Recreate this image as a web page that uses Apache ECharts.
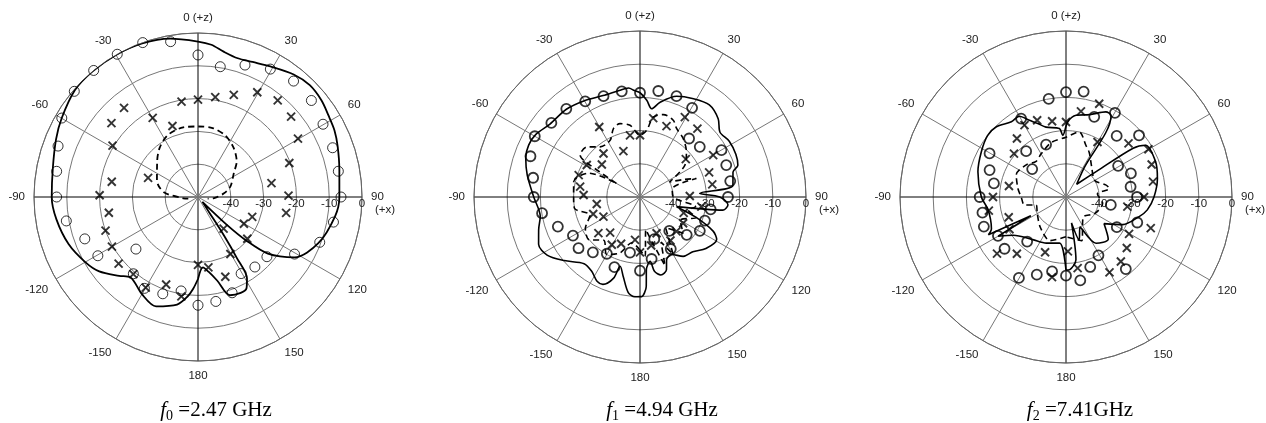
<!DOCTYPE html>
<html><head><meta charset="utf-8">
<script src="https://cdn.jsdelivr.net/npm/echarts@6/dist/echarts.min.js"></script>
<style>html,body{margin:0;padding:0;background:#fff}#c{width:1266px;height:423px}</style>
</head><body><div id="c"></div>
<script>
// ---- data: [angle (deg, clockwise from +z), level (dB)] ----
// f0 = 2.47 GHz
const p0_co_sim = [[-180,-25],[-177,-22],[-174,-19.5],[-169,-16.6],[-159,-14.3],[-150,-15.8],[-140,-18],[-135,-16],[-127,-12.3],[-120,-10.3],[-110,-8],[-99,-6.3],[-90,-5.4],[-79,-4.9],[-68,-3.3],[-60,-2],[-49,-0.3],[-40,0],[-30,0],[-20,-0.2],[-10,-1],[0,-2.6],[5,-3.4],[10,-5],[16,-6],[22,-5.6],[29,-4.5],[38,-2.6],[45,-1.8],[52,-2.2],[58,-3.1],[64,-3.7],[70,-4.7],[79,-6.1],[90,-6.9],[98,-7.8],[111,-10.7],[122,-15.3],[129,-22.6],[132,-30],[134,-38],[138,-48],[144,-44],[146,-36],[147.5,-28],[149,-21],[152,-18.5],[156,-18],[162,-18.5],[167,-23.8],[172,-27],[176,-28.5],[180,-25]];
const p0_co_meas = [[-180,-17],[-169.8,-20.9],[-160,-18.6],[-149.6,-17.7],[-139.9,-19.4],[-130,-25.3],[-120.4,-14.6],[-110.3,-13.2],[-100.3,-9.2],[-90,-6.9],[-79.7,-6.2],[-70,-4.6],[-59.9,-2],[-49.5,-0.4],[-39.5,0],[-29.5,0],[-19.7,0],[-10,-1.9],[0,-6.7],[9.7,-9.7],[19.6,-7.3],[29.5,-5.2],[39.5,-4.2],[49.6,-4.6],[59.8,-5.9],[69.9,-6.3],[79.6,-6.5],[90,-6.4],[100.5,-8],[110.4,-10.4],[120.6,-15.8],[130.9,-22.2],[140.9,-22.5],[150.6,-23.2],[160.4,-19],[170.3,-17.7]];
const p0_x_sim = [[-100,-47],[-95,-45.5],[-82,-39.5],[-68,-36.5],[-49,-33.5],[-38,-31],[-26,-29],[-12,-28.3],[0,-28.5],[12,-28.5],[24,-29.5],[36,-31.5],[47.5,-34],[56,-36.8],[72,-39.6],[82,-42],[95,-45.3],[100,-47]];
const p0_x_meas = [[-170.5,-19.3],[-160,-21.6],[-150,-18.1],[-140,-19.3],[-130,-18.4],[-120,-19.7],[-110,-20],[-100,-22.4],[-89,-20],[-80,-23.3],[-69,-33.7],[-59,-19.6],[-49.5,-15.3],[-39.7,-14.7],[-29.8,-22.2],[-19.8,-27],[-9.8,-20.5],[0,-20.3],[9.8,-19.1],[19.3,-17],[29.5,-13.3],[39.5,-11.8],[49.2,-12.5],[59.7,-14.7],[69.6,-20.3],[79.3,-27.2],[89.1,-22.4],[100.2,-22.7],[110.1,-32.4],[120.2,-33.8],[130.3,-30.3],[141,-37.6],[150.4,-30],[161.1,-24.3],[171.6,-28.3],[180,-29.3]];

// f1 = 4.94 GHz
const p1_co_sim = [[-180,-20],[-177,-19.9],[-173,-21],[-168,-25.6],[-164,-28.3],[-162,-24.3],[-157,-21.4],[-153,-21.5],[-147,-23.3],[-140,-23.8],[-130,-20.2],[-122,-17],[-115,-16.3],[-108,-17.9],[-101,-19.4],[-90,-18],[-79,-15.4],[-71,-13.6],[-65,-13],[-59,-13.4],[-51,-15.1],[-40,-15.5],[-30,-16.5],[-20,-17.5],[-11,-17.3],[-6,-17],[-3,-17.9],[0,-18.6],[4,-20.8],[7.5,-23.2],[12,-20.8],[20,-17.7],[28,-16.4],[37,-15.3],[45,-16.7],[51,-19],[58,-18.3],[66,-18.4],[72,-19],[75,-21],[83,-21.8],[86.5,-32],[90,-26],[95,-23.4],[99,-24.7],[104.8,-38.6],[110,-32],[115,-25.7],[119,-23.6],[128,-24.8],[136,-27.1],[144,-27.9],[151,-30.2],[157,-29.5],[160,-26.7],[165,-25.7],[169,-27.2],[171,-30.4],[175,-28],[176,-23],[179,-20],[180,-20]];
const p1_co_meas = [[-180,-27.8],[-169.8,-33],[-160,-27.5],[-149.7,-30.2],[-139.6,-28.1],[-129.8,-25.9],[-119.9,-26.7],[-109.8,-23.7],[-99.4,-20.1],[-90,-18],[-79.8,-17.3],[-69.6,-14.8],[-60,-13.4],[-50.1,-15.2],[-39.9,-15.4],[-29.8,-16.8],[-19.9,-17.7],[-9.8,-17.7],[0,-18.6],[9.8,-17.6],[19.9,-17.7],[30.3,-18.9],[40,-27],[50,-26.5],[60.1,-21.7],[69.7,-22.3],[80,-22.4],[90,-23.5],[99.9,-28.4],[110,-29.2],[119.5,-29.3],[129,-31.9],[139.2,-36.5],[149.4,-31.8],[161.3,-36.6],[169.4,-31]];
const p1_x_sim = [[-180,-34],[-170,-36],[-160,-32],[-150,-30],[-140,-33],[-130,-30],[-120,-31],[-110,-34],[-100,-30],[-90,-30],[-77,-29.5],[-65,-33],[-60,-42],[-57,-30],[-55,-28],[-46.7,-28],[-38.5,-30.7],[-27.8,-30.7],[-21.2,-27.9],[-15.2,-27.1],[-7.9,-28.2],[0,-31.4],[5.7,-29.8],[9.4,-25.6],[15.8,-24.2],[23.4,-24.8],[28.1,-26.6],[36.4,-28.1],[45.8,-30.5],[54.6,-33.4],[63,-40],[68,-36],[71.8,-32.1],[76,-40],[90,-40],[100,-33],[105,-35],[110,-32],[120,-36],[130,-33],[140,-38],[150,-30],[155,-35],[160,-28],[165,-36],[170,-40],[175,-32],[180,-34]];
const p1_x_meas = [[-173.4,-37],[-158,-34.8],[-149.4,-33.3],[-140,-36],[-131,-33.4],[-118.2,-37.5],[-110,-35],[-99.2,-36.8],[-88,-33],[-80.2,-31.7],[-70.4,-30.4],[-59,-31.3],[-49.6,-34.9],[-40,-32.9],[-30.2,-25.6],[-19.9,-35.3],[-9.2,-31.2],[0,-31.4],[9.5,-25.9],[20.5,-27.2],[29.3,-22.4],[40,-23.1],[50.4,-32.1],[60.2,-24.6],[70.4,-27.9],[80.1,-27.9],[88.9,-35],[98.9,-31.3],[110,-36],[121.3,-34.8],[133.4,-34.9],[145,-34],[155.4,-38],[167,-35],[180,-33.3]];

// f2 = 7.41 GHz
const p2_co_sim = [[-180,-28],[-172,-36],[-157,-34.9],[-142,-33.7],[-126,-30.4],[-120,-26.4],[-118,-38],[-116,-24],[-113,-25.6],[-99,-26.2],[-90,-24.5],[-74,-22.4],[-62,-21.1],[-52,-20],[-45,-20.2],[-36,-22],[-30,-21.9],[-25.5,-24.4],[-21,-26.3],[-16,-28.1],[-5.5,-29.3],[-3,-31.4],[1.3,-27.4],[7,-25.2],[16,-24.2],[25,-21.7],[29,-22],[32,-40],[40,-45],[50,-38],[54,-25],[57,-21.4],[68.6,-21],[78.5,-21.9],[90,-23.5],[99,-25.2],[105,-27.2],[116,-31],[125,-36],[135,-32],[147,-33.4],[155,-40],[163,-36.5],[168,-42],[171,-30.9],[177,-28.1],[180,-28]];
const p2_co_meas = [[-169.4,-27.2],[-159.4,-25],[-149.8,-21.8],[-138.9,-32.2],[-130.1,-25.8],[-119.7,-26.4],[-109.8,-23.7],[-100.6,-24.4],[-90,-24],[-79.3,-27.9],[-70.6,-25.6],[-60.3,-23.5],[-50.5,-36.8],[-41,-31.7],[-29.8,-22.8],[-20.8,-33.1],[-10,-20],[0,-18.4],[9.5,-17.8],[19.4,-24.4],[30.2,-20.7],[39.7,-26.1],[49.8,-21.2],[59.1,-31.7],[70,-29.2],[81,-30.3],[90,-28.6],[100,-36.3],[109.7,-27.2],[120.7,-32.2],[140.3,-21.8],[150.9,-29.9],[160.9,-27.7],[170.3,-24.5],[180,-26.3]];
const p2_x_sim = [[-180,-38],[-160,-36],[-140,-38],[-120,-40],[-105,-40.7],[-101,-37.3],[-90,-36.5],[-80,-35.3],[-66,-33.6],[-51,-34.6],[-40,-36],[-30,-35],[-15,-33],[0,-32],[11.5,-30],[21,-33.3],[27.6,-34.9],[40,-38],[60,-40],[73,-37.5],[79,-36.7],[84.6,-40.5],[99.8,-38.8],[120,-40],[140,-42],[160,-36],[180,-38]];
const p2_x_meas = [[-170.1,-25.5],[-159.3,-32.2],[-139.1,-27.4],[-129.4,-23.1],[-119.7,-30.4],[-109.5,-31.7],[-100,-26.4],[-90,-28],[-79.1,-32.5],[-50.2,-29.6],[-40,-27],[-30,-25],[-20.6,-25.3],[-10.4,-26.8],[0,-27.4],[9.9,-23.8],[19.6,-20.2],[29.8,-30.9],[49.4,-25.2],[59.9,-21.3],[69.2,-22.4],[80,-23.4],[90,-26.5],[98.9,-31.3],[110.2,-22.8],[120.3,-28],[130,-26.1],[139.6,-24.5],[150,-23.8],[170.7,-28.3],[178,-33.6]];

const titles = [['0', ' =2.47 GHz'], ['1', ' =4.94 GHz'], ['2', ' =7.41GHz']];

// ---- layout ----
const PLOTS = [
  {center:[198,197], r:164, tx:211, co:p0_co_sim, coM:p0_co_meas, xs:p0_x_sim, xM:p0_x_meas, lw:1.8, cw:1},
  {center:[640,197], r:166, tx:657, co:p1_co_sim, coM:p1_co_meas, xs:p1_x_sim, xM:p1_x_meas, lw:1.6, cw:1.8},
  {center:[1066,197], r:166, tx:1075, co:p2_co_sim, coM:p2_co_meas, xs:p2_x_sim, xM:p2_x_meas, lw:1.6, cw:1.8}
];
const toRA = arr => arr.map(([a, v]) => [v, a]);
const LBL = {color:'#222', fontSize:11.5, fontFamily:'Liberation Sans, Arial, sans-serif'};
const CROSS = 'path://M0,0L10,10M10,0L0,10';

const polar = [], angleAxis = [], radiusAxis = [], series = [], title = [];
PLOTS.forEach((p, i) => {
  const m = 2 * i, o = 2 * i + 1;
  polar.push({center:p.center, radius:p.r});
  polar.push({center:p.center, radius:p.r});
  angleAxis.push({
    polarIndex:m, type:'value', min:-180, max:180, interval:30, startAngle:270, clockwise:true,
    axisLine:{lineStyle:{color:'#666', width:1}},
    axisTick:{show:false},
    axisLabel:Object.assign({}, LBL, {
      margin:9,
      formatter: v => v === 0 ? '0 (+z)' : (v === 90 ? '{e| }\n{n|90}\n{x|(+x)}' : (Math.abs(v) === 180 ? '180' : String(v))),
      rich:{e:{lineHeight:13, fontSize:11}, n:Object.assign({}, LBL, {lineHeight:13}), x:Object.assign({}, LBL, {lineHeight:13, padding:[0,0,0,4]})}
    }),
    splitLine:{lineStyle:{color:['#000','#777','#777'], width:1}}
  });
  angleAxis.push({polarIndex:o, type:'value', min:0, max:360, startAngle:0, show:false});
  radiusAxis.push({
    polarIndex:m, type:'value', min:-50, max:0, interval:10,
    axisLine:{show:false}, axisTick:{show:false}, axisLabel:{show:false},
    splitLine:{lineStyle:{color:'#777', width:1}}
  });
  radiusAxis.push({
    polarIndex:o, type:'value', min:-50, max:0, interval:10,
    axisLine:{show:false}, axisTick:{show:false}, splitLine:{show:false},
    axisLabel:Object.assign({}, LBL, {margin:-13, formatter: v => v === -50 ? '' : String(v)})
  });
  series.push({type:'line', coordinateSystem:'polar', polarIndex:m, data:toRA(p.co), symbol:'none', smooth:0.3,
    lineStyle:{color:'#000', width:p.lw}, z:4});
  series.push({type:'line', coordinateSystem:'polar', polarIndex:m, data:toRA(p.xs), symbol:'none', smooth:0.3,
    lineStyle:{color:'#000', width:p.lw, type:[6,4]}, z:4});
  series.push({type:'scatter', coordinateSystem:'polar', polarIndex:m, data:toRA(p.coM), symbol:'circle', symbolSize:10,
    itemStyle:{color:'rgba(0,0,0,0)', borderColor:'#000', borderWidth:p.cw}, z:5});
  series.push({type:'scatter', coordinateSystem:'polar', polarIndex:m, data:toRA(p.xM), symbol:CROSS, symbolSize:8,
    itemStyle:{color:'none', borderColor:'#000', borderWidth:1.9}, z:5});
  title.push({
    left:p.tx, top:392, textAlign:'center',
    text:'{i|f}{s|' + titles[i][0] + '}{n|' + titles[i][1] + '}',
    textStyle:{fontWeight:'normal', rich:{
      i:{fontFamily:'Liberation Serif', fontStyle:'italic', fontWeight:'normal', fontSize:21, lineHeight:26, color:'#000'},
      s:{fontFamily:'Liberation Serif', fontWeight:'normal', fontSize:14, lineHeight:14, verticalAlign:'bottom', color:'#000'},
      n:{fontFamily:'Liberation Serif', fontWeight:'normal', fontSize:21, lineHeight:26, color:'#000'}
    }}
  });
});

const chart = echarts.init(document.getElementById('c'));
chart.setOption({backgroundColor:'#fff', animation:false, title, polar, angleAxis, radiusAxis, series});
</script></body></html>
